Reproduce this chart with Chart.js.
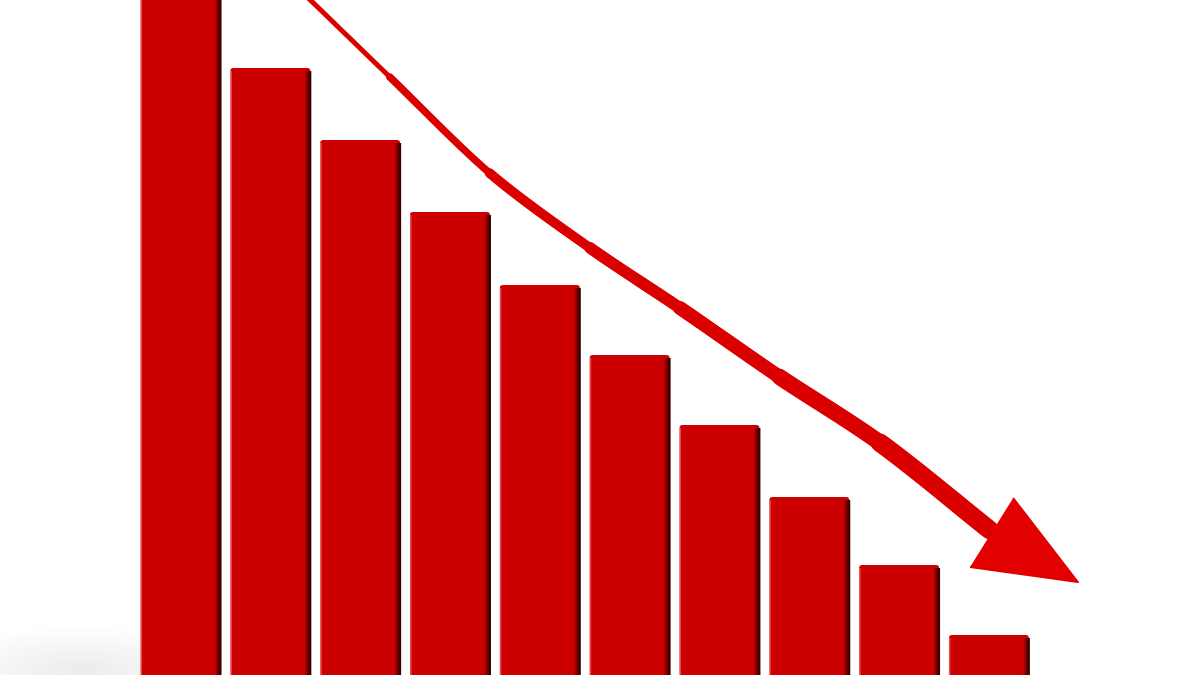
<!DOCTYPE html>
<html>
<head>
<meta charset="utf-8">
<script src="https://cdn.jsdelivr.net/npm/chart.js@4/dist/chart.umd.min.js"></script>
<style>
  html, body { margin: 0; padding: 0; background: #fff; }
  body {
    width: 1200px; height: 675px; overflow: hidden;
    background: radial-gradient(ellipse 150px 45px at 80px 670px, rgba(190,190,190,0.3), rgba(255,255,255,0) 100%), #fff;
  }
  canvas { display: block; }
</style>
</head>
<body>
<canvas id="chart1" width="1200" height="675"></canvas>
<script>
// bar categories and heights (arbitrary units)
const categories = ["1", "2", "3", "4", "5", "6", "7", "8", "9", "10"];
const barValues = [690, 607, 535, 463, 390, 320, 250, 178, 110, 40];

// arrow shaft and head, x in bar-index units, y in bar units
const shaftX = [1.33, 2.33, 3.44, 4.56, 5.56, 6.67, 7.79, 9.01];
const shaftY = [685, 598, 502, 427, 367, 298, 232, 145];
const headX = [8.79, 9.99, 9.27];
const headY = [108, 93, 177];

const barRed = "#cc0000";
const arrowRed = "#da0000";

const barData = categories.map((c, i) => ({ x: i, y: barValues[i] }));
const shaftData = shaftX.map((x, i) => ({ x, y: shaftY[i] }));
const headData = headX.map((x, i) => ({ x, y: headY[i] }));

// dark right edge on every bar to fake the 3d side
const barEdges = {
  id: "barEdges",
  afterDatasetDraw(chart, args) {
    if (args.index !== 0) return;
    const ctx = chart.ctx;
    const area = chart.chartArea;
    const meta = chart.getDatasetMeta(0);
    ctx.save();
    ctx.beginPath();
    ctx.rect(area.left, area.top, area.right - area.left, area.bottom - area.top);
    ctx.clip();
    meta.data.forEach(bar => {
      const right = bar.x + bar.width / 2;
      const left = bar.x - bar.width / 2;
      const top = bar.y + 3;
      const g = ctx.createLinearGradient(right - 6, 0, right + 1, 0);
      g.addColorStop(0, "rgba(120,0,0,0)");
      g.addColorStop(0.5, "#6a0000");
      g.addColorStop(1, "#2a0000");
      ctx.fillStyle = g;
      ctx.fillRect(right - 6, top, 7, bar.base - top);
      ctx.fillStyle = "rgba(255,150,150,0.5)";
      ctx.fillRect(left, top, 1.5, bar.base - top);
    });
    ctx.restore();
  }
};

const ctx1 = document.getElementById("chart1").getContext("2d");
new Chart(ctx1, {
  type: "bar",
  data: {
    datasets: [
      {
        label: "Bars",
        data: barData,
        backgroundColor: barRed,
        borderSkipped: "bottom",
        borderRadius: { topLeft: 3, topRight: 3 },
        grouped: false,
        categoryPercentage: 1,
        barPercentage: 0.89,
        order: 3
      },
      {
        type: "line",
        label: "Shaft",
        data: shaftData,
        borderColor: arrowRed,
        borderWidth: 6,
        borderCapStyle: "round",
        borderJoinStyle: "round",
        cubicInterpolationMode: "monotone",
        pointRadius: 0,
        fill: false,
        clip: false,
        segment: {
          borderWidth: c => 5 + c.p0DataIndex * 2.3
        },
        order: 2
      },
      {
        type: "line",
        label: "Head",
        data: headData,
        borderColor: "#e00000",
        backgroundColor: "#e30000",
        borderWidth: 2,
        borderJoinStyle: "round",
        tension: 0,
        pointRadius: 0,
        fill: "shape",
        clip: false,
        order: 1
      }
    ]
  },
  options: {
    responsive: false,
    animation: false,
    devicePixelRatio: 1,
    layout: { padding: 0 },
    plugins: { legend: { display: false }, tooltip: { enabled: false } },
    scales: {
      x: { type: "linear", display: false, offset: false, min: -2.01, max: 11.35 },
      y: { display: false, min: 0, max: 675 }
    }
  },
  plugins: [barEdges]
});
</script>
</body>
</html>
